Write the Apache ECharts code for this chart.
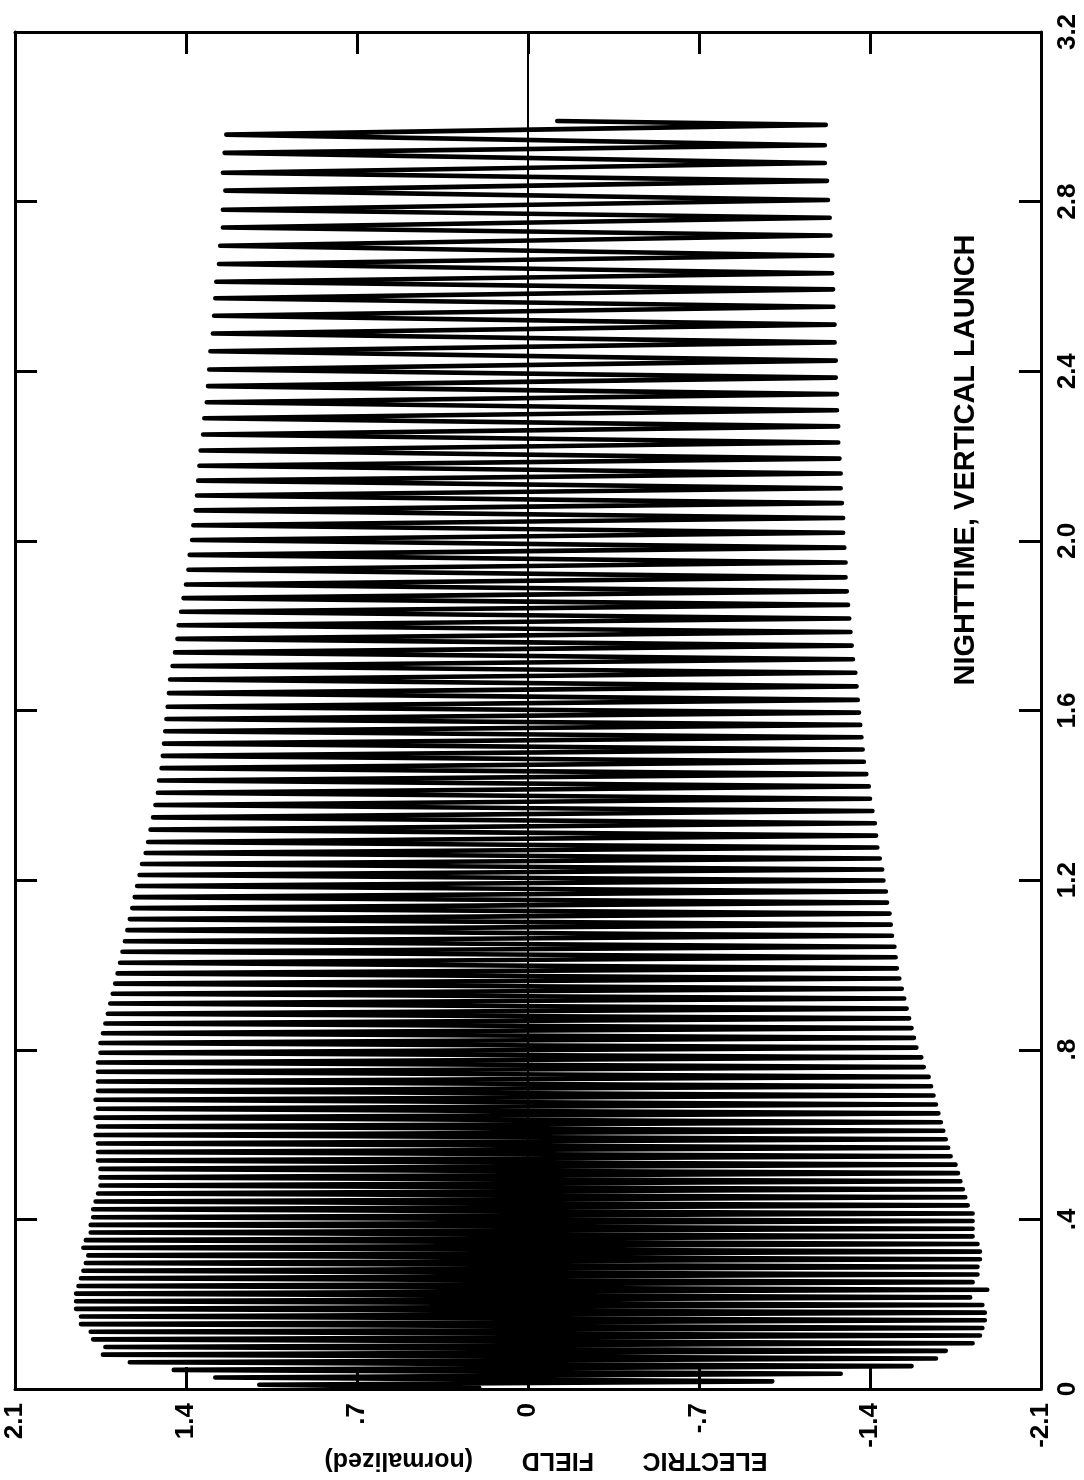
<!DOCTYPE html>
<html>
<head>
<meta charset="utf-8">
<script src="https://cdn.jsdelivr.net/npm/echarts@6/dist/echarts.min.js"></script>
<style>
  html, body { margin: 0; padding: 0; background: #fff; }
  #chart { width: 1084px; height: 1480px; }
</style>
</head>
<body>
<div id="chart"></div>
<script>
// Successive turning points of the field waveform (time of each peak, ms)
const peakTimes = [
  0.003, 0.010, 0.018, 0.027, 0.036, 0.045, 0.054, 0.063, 0.072, 0.081,
  0.090, 0.099, 0.108, 0.117, 0.126, 0.135, 0.144, 0.153, 0.162, 0.171,
  0.180, 0.189, 0.198, 0.207, 0.216, 0.225, 0.234, 0.243, 0.252, 0.261,
  0.270, 0.279, 0.288, 0.297, 0.306, 0.315, 0.324, 0.333, 0.342, 0.351,
  0.360, 0.369, 0.378, 0.387, 0.396, 0.405, 0.414, 0.424, 0.433, 0.442,
  0.452, 0.461, 0.471, 0.480, 0.490, 0.499, 0.509, 0.519, 0.529, 0.539,
  0.549, 0.559, 0.569, 0.579, 0.589, 0.599, 0.609, 0.619, 0.629, 0.640,
  0.650, 0.661, 0.671, 0.682, 0.692, 0.703, 0.714, 0.725, 0.736, 0.748,
  0.759, 0.770, 0.782, 0.793, 0.805, 0.816, 0.828, 0.839, 0.851, 0.862,
  0.874, 0.885, 0.897, 0.909, 0.921, 0.932, 0.944, 0.956, 0.968, 0.980,
  0.992, 1.005, 1.018, 1.031, 1.043, 1.056, 1.069, 1.082, 1.095, 1.108,
  1.121, 1.134, 1.147, 1.160, 1.173, 1.186, 1.199, 1.212, 1.225, 1.238,
  1.251, 1.264, 1.277, 1.290, 1.305, 1.319, 1.334, 1.348, 1.363, 1.377,
  1.392, 1.406, 1.421, 1.435, 1.450, 1.464, 1.479, 1.493, 1.508, 1.522,
  1.537, 1.551, 1.566, 1.580, 1.595, 1.609, 1.625, 1.641, 1.657, 1.673,
  1.689, 1.705, 1.721, 1.737, 1.753, 1.769, 1.785, 1.801, 1.817, 1.833,
  1.849, 1.865, 1.881, 1.897, 1.914, 1.932, 1.949, 1.967, 1.984, 2.002,
  2.019, 2.037, 2.054, 2.072, 2.089, 2.107, 2.124, 2.142, 2.159, 2.177,
  2.194, 2.213, 2.232, 2.251, 2.270, 2.289, 2.308, 2.327, 2.346, 2.365,
  2.385, 2.404, 2.425, 2.447, 2.468, 2.489, 2.510, 2.531, 2.552, 2.572,
  2.593, 2.611, 2.631, 2.653, 2.673, 2.696, 2.720, 2.739, 2.762, 2.781,
  2.804, 2.826, 2.849, 2.868, 2.891, 2.915, 2.933, 2.958, 2.981, 2.990
];

// Normalized electric field at each of those turning points
const peakValues = [
  0.20, 1.10, -1.00, 1.28, -1.28, 1.45, -1.57, 1.63, -1.67, 1.74,
  -1.71, 1.73, -1.82, 1.78, -1.85, 1.79, -1.86, 1.83, -1.87, 1.83,
  -1.87, 1.85, -1.86, 1.85, -1.81, 1.85, -1.88, 1.84, -1.82, 1.83,
  -1.84, 1.82, -1.84, 1.81, -1.85, 1.80, -1.85, 1.82, -1.84, 1.81,
  -1.82, 1.79, -1.82, 1.79, -1.82, 1.78, -1.82, 1.78, -1.80, 1.77,
  -1.79, 1.76, -1.78, 1.75, -1.77, 1.75, -1.76, 1.75, -1.75, 1.76,
  -1.73, 1.76, -1.72, 1.76, -1.71, 1.77, -1.70, 1.76, -1.69, 1.77,
  -1.68, 1.76, -1.67, 1.77, -1.66, 1.76, -1.65, 1.76, -1.64, 1.76,
  -1.62, 1.76, -1.61, 1.75, -1.59, 1.75, -1.58, 1.74, -1.57, 1.73,
  -1.56, 1.72, -1.55, 1.71, -1.54, 1.70, -1.53, 1.69, -1.52, 1.68,
  -1.51, 1.67, -1.505, 1.66, -1.50, 1.65, -1.49, 1.64, -1.485, 1.63,
  -1.48, 1.62, -1.47, 1.61, -1.465, 1.60, -1.455, 1.59, -1.45, 1.58,
  -1.44, 1.565, -1.43, 1.555, -1.425, 1.545, -1.42, 1.535, -1.41, 1.525,
  -1.40, 1.515, -1.395, 1.51, -1.385, 1.50, -1.375, 1.495, -1.37, 1.49,
  -1.365, 1.485, -1.36, 1.48, -1.355, 1.475, -1.35, 1.47, -1.345, 1.465,
  -1.34, 1.455, -1.33, 1.445, -1.325, 1.435, -1.32, 1.43, -1.315, 1.42,
  -1.31, 1.41, -1.305, 1.40, -1.30, 1.39, -1.30, 1.385, -1.295, 1.375,
  -1.29, 1.37, -1.29, 1.36, -1.285, 1.355, -1.28, 1.35, -1.28, 1.345,
  -1.275, 1.34, -1.27, 1.33, -1.27, 1.325, -1.265, 1.315, -1.265, 1.31,
  -1.26, 1.305, -1.26, 1.30, -1.255, 1.29, -1.255, 1.285, -1.25, 1.28,
  -1.249, 1.276, -1.245, 1.265, -1.246, 1.260, -1.238, 1.249, -1.235, 1.249,
  -1.228, 1.239, -1.224, 1.249, -1.215, 1.242, -1.215, 1.235, -1.219, -0.12
];

const fieldTickLabels = ['-2.1', '-1.4', '-.7', '0', '.7', '1.4', '2.1'];
const timeTickLabels  = ['0', '.4', '.8', '1.2', '1.6', '2.0', '2.4', '2.8', '3.2'];

const FIELD_MIN = -2.1, FIELD_MAX = 2.1, FIELD_STEP = 0.7;
const TIME_MIN = 0, TIME_MAX = 3.2, TIME_STEP = 0.4;

// Field runs across the page (positive to the left), time runs up the page
const waveform = peakTimes.map((t, i) => [peakValues[i], t]);

const font = 'Liberation Sans';
const ink = '#000';

const fieldLabel = v => fieldTickLabels[Math.round((v - FIELD_MIN) / FIELD_STEP)] || '';
const timeLabel  = v => timeTickLabels[Math.round((v - TIME_MIN) / TIME_STEP)] || '';

const frameLine = { show: true, onZero: false, lineStyle: { color: ink, width: 3 } };
const innerTick = { show: true, inside: true, length: 22, lineStyle: { color: ink, width: 3 } };
const tickText = { rotate: 90, margin: 14, color: ink, fontSize: 26, fontWeight: 'bold', fontFamily: font };

const chart = echarts.init(document.getElementById('chart'), null, { renderer: 'canvas' });
chart.setOption({
  animation: false,
  backgroundColor: '#fff',
  grid: { left: 15, right: 43, top: 32, bottom: 91, containLabel: false, outerBoundsMode: 'none' },
  xAxis: [
    {
      type: 'value', min: FIELD_MIN, max: FIELD_MAX, interval: FIELD_STEP, inverse: true,
      position: 'bottom',
      axisLine: frameLine, axisTick: innerTick, splitLine: { show: false },
      axisLabel: Object.assign({ formatter: fieldLabel }, tickText)
    },
    {
      type: 'value', min: FIELD_MIN, max: FIELD_MAX, interval: FIELD_STEP, inverse: true,
      position: 'top',
      axisLine: frameLine, axisTick: innerTick, splitLine: { show: false },
      axisLabel: { show: false }
    }
  ],
  yAxis: [
    {
      type: 'value', min: TIME_MIN, max: TIME_MAX, interval: TIME_STEP,
      position: 'right',
      axisLine: frameLine, axisTick: innerTick, splitLine: { show: false },
      axisLabel: Object.assign({ formatter: timeLabel }, tickText)
    },
    {
      type: 'value', min: TIME_MIN, max: TIME_MAX, interval: TIME_STEP,
      position: 'left',
      axisLine: frameLine, axisTick: innerTick, splitLine: { show: false },
      axisLabel: { show: false }
    }
  ],
  series: [
    {
      type: 'line',
      xAxisIndex: 0, yAxisIndex: 0,
      data: waveform,
      showSymbol: false, symbol: 'none',
      lineStyle: { color: ink, width: 4.6, cap: 'round', join: 'round' },
      silent: true,
      markLine: {
        silent: true, symbol: ['none', 'none'],
        label: { show: false },
        lineStyle: { color: ink, width: 2, type: 'solid' },
        data: [{ xAxis: 0 }]
      }
    }
  ],
  graphic: [
    {
      type: 'text', x: 546, y: 1460, rotation: Math.PI,
      style: {
        text: 'ELECTRIC       FIELD       (normalized)', fill: ink,
        font: 'bold 25px "Liberation Sans"', textAlign: 'center', textVerticalAlign: 'middle'
      }
    },
    {
      type: 'text', x: 966, y: 460, rotation: Math.PI / 2,
      style: {
        text: 'NIGHTTIME, VERTICAL LAUNCH', fill: ink,
        font: 'bold 29px "Liberation Sans"', textAlign: 'center', textVerticalAlign: 'middle'
      }
    }
  ]
});
</script>
</body>
</html>
